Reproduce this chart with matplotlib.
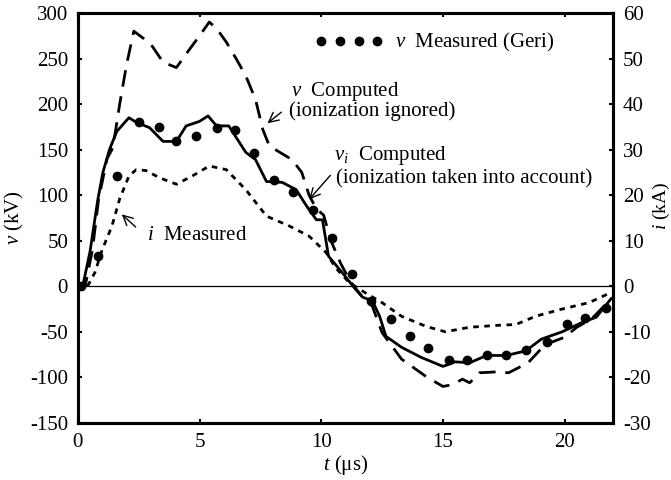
import matplotlib
matplotlib.use("Agg")
import matplotlib.pyplot as plt
from matplotlib.lines import Line2D

plt.rcParams["font.family"] = ["Liberation Serif", "DejaVu Serif"]
plt.rcParams["mathtext.fontset"] = "custom"
plt.rcParams["mathtext.rm"] = "Liberation Serif"
plt.rcParams["mathtext.it"] = "Liberation Serif:italic"
plt.rcParams["axes.unicode_minus"] = False

# v computed, ionization ignored (kV)
t_ign = [0, 0.3, 0.6, 0.85, 1.2, 1.44, 1.72, 2.0, 2.3, 2.7, 3.07, 3.5, 4.05,
         4.45, 5.0, 5.4, 5.7, 6.1, 6.5, 6.9, 7.3, 7.6, 7.87, 8.3, 8.8, 9.2,
         9.5, 9.8, 10.1, 10.4, 10.8, 11.2, 11.7, 12.1, 12.5, 13.3, 14.3,
         15.0, 15.4, 15.8, 16.1, 16.5, 17.2, 17.7, 18.5, 19.2, 20.0, 20.5,
         21.1, 21.8, 22.0]
v_ign = [0, 0, 40, 95, 140, 152, 200, 243, 280, 272, 263, 246, 240,
         255, 275, 290, 283, 268, 250, 231, 205, 172, 154, 147, 139, 125,
         100, 85, 78, 50, 25, 5, -12, -22, -51, -80, -99,
         -110, -108, -102, -106, -95, -94, -95, -84, -64, -56, -45,
         -36, -17, -12]

# v_i computed, ionization taken into account (kV)
t_ion = [0, 0.2, 0.5, 0.82, 1.03, 1.3, 1.6, 2.1, 2.4, 2.95, 3.5, 4.05, 4.45,
         5.0, 5.35, 5.7, 6.2, 6.9, 7.3, 7.75, 8.4, 8.97, 9.4, 9.8, 10.05,
         10.3, 10.86, 11.4, 11.7, 12.1, 12.4, 12.66, 13.3, 14.1, 15.0, 15.5,
         16.1, 16.8, 17.6, 18.4, 19.05, 19.9, 20.7, 21.3, 21.9]
v_ion = [0, 0, 38, 95, 125, 150, 170, 185, 180, 174, 159, 159, 176,
         181, 187, 176, 176, 147, 139, 115, 114, 106, 88, 73, 73,
         33, 15, -3, -12, -16, -33, -55, -67, -78, -88, -83,
         -84, -76, -76, -71, -58, -50, -40, -34, -14]

# i measured (kA)
t_cur = [0.4, 0.7, 1.0, 1.4, 1.72, 2.1, 2.4, 2.8, 3.36, 4.05, 4.7, 5.4, 6.1,
         6.9, 7.75, 8.7, 9.5, 10.2, 10.6, 11.15, 11.8, 12.5, 13.3, 14.3,
         15.1, 16.1, 17.2, 18.0, 18.8, 19.9, 21.0, 21.9]
i_cur = [0.0, 3.0, 8.0, 13.2, 19.2, 24.2, 25.6, 25.4, 23.8, 22.4, 24.2,
         26.4, 25.6, 21.2, 15.4, 13.2, 11.0, 7.4, 4.0, 0.8, -1.4, -3.6,
         -6.6, -8.8, -10.0, -9.0, -8.6, -8.4, -6.6, -5.0, -3.6, -1.4]

# v measured (Geri), kV
t_meas = [0.15, 0.83, 1.6, 2.5, 3.33, 4.05, 4.87, 5.7, 6.46, 7.25, 8.05,
          8.86, 9.65, 10.45, 11.27, 12.05, 12.87, 13.65, 14.4, 15.25, 16.0,
          16.8, 17.6, 18.4, 19.26, 20.1, 20.85, 21.7]
v_meas = [0, 33, 121, 180, 175, 159, 165, 174, 171, 146, 117,
          103, 84, 53, 13, -16, -36, -55, -68, -81, -81,
          -75, -76, -70, -61, -42, -35, -24]

fs = 15

fig = plt.figure(figsize=(6.71, 4.80), dpi=100)
ax = fig.add_axes([0.116, 0.119, 0.798, 0.854])
ax2 = ax.twinx()

ax.axhline(0, color="black", lw=0.9)
ax.plot(t_ign, v_ign, color="black", lw=2.0, dashes=(6, 3.5))
ax.plot(t_ion, v_ion, color="black", lw=2.0)
ax.plot(t_meas, v_meas, "o", color="black", ms=6)
ax2.plot(t_cur, i_cur, color="black", lw=2.0, dashes=(2, 2))

ax.set_xlim(0, 22)
ax.set_ylim(-150, 300)
ax2.set_ylim(-30, 60)
ax.set_xticks([0, 5, 10, 15, 20])
ax.set_yticks(range(-150, 301, 50))
ax2.set_yticks(range(-30, 61, 10))

for a in (ax, ax2):
    for s in a.spines.values():
        s.set_linewidth(2.2)
    a.tick_params(direction="in", length=3, width=1.5, labelsize=fs)
ax.tick_params(top=True, pad=7)
ax2.tick_params(pad=7)

ax.set_xlabel("$t$ (μs)", fontsize=fs, labelpad=1)
ax.set_ylabel("$v$ (kV)", fontsize=fs, labelpad=3)
ax2.set_ylabel("$i$ (kA)", fontsize=14)
ax2.yaxis.set_label_coords(1.07, 0.53)

arrow = dict(arrowstyle="->,head_length=0.7,head_width=0.35", color="black", lw=1)
ax.annotate("", xy=(7.7, 177), xytext=(8.45, 193), arrowprops=arrow)
ax.text(8.77, 214, "$v$  Computed", fontsize=fs, va="center")
ax.text(8.69, 192, "(ionization ignored)", fontsize=fs, va="center")

ax.annotate("", xy=(9.43, 93), xytext=(10.45, 124), arrowprops=arrow)
ax.text(10.53, 143, "$v_i$  Computed", fontsize=fs, va="center")
ax.text(10.6, 118, "(ionization taken into account)", fontsize=fs, va="center")

ax.annotate("", xy=(1.72, 81), xytext=(2.46, 63), arrowprops=arrow)
ax.text(2.83, 56, "$i$  Measured", fontsize=fs, va="center")

handle = Line2D([], [], ls="none", marker="o", color="black", ms=6)
ax.legend([handle], ["$v$  Measured (Geri)"], numpoints=4, frameon=False,
          loc="center left", bbox_to_anchor=(0.423, 0.927), borderpad=0,
          handlelength=3.3, handletextpad=0.55, fontsize=fs)

fig.savefig("out.png", dpi=100)
